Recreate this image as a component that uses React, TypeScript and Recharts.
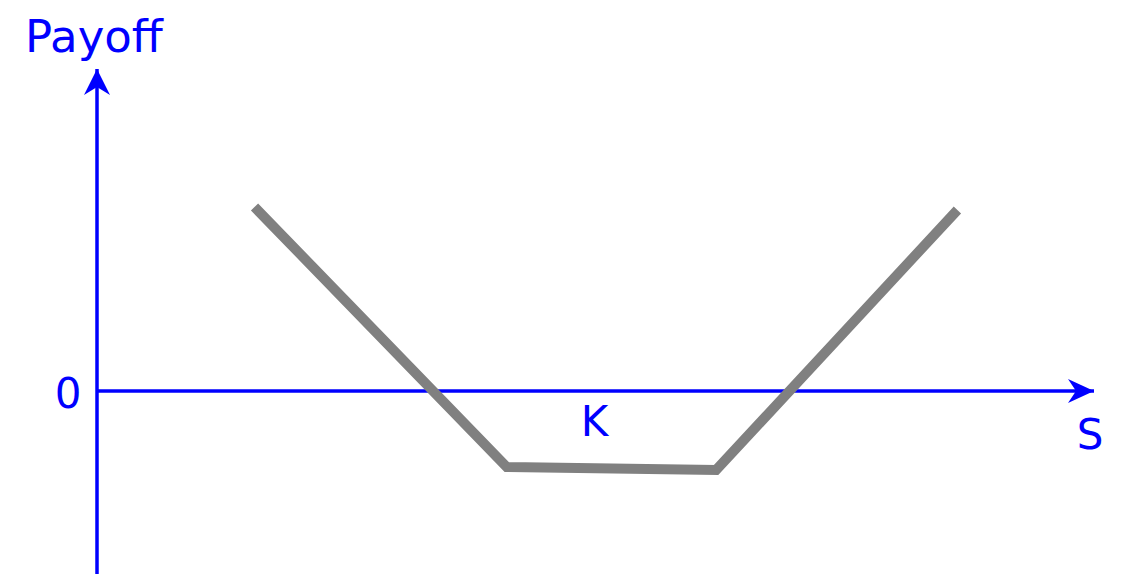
import { LineChart, Line, XAxis, YAxis, ReferenceLine, ReferenceDot } from "recharts";

// stock price S and payoff at the four corners of the curve
const priceS = [15.8, 41.1, 62.1, 86.3];
const payoff = [9.2, -3.8, -3.95, 9.05];
const strikeK = 50;

const data = priceS.map((s, i) => ({ s, payoff: payoff[i] }));

const BLUE = "#0000ff";
const FONT = "'DejaVu Sans', Verdana, sans-serif";

const RightArrow = (props: any) => {
  const { cx, cy } = props;
  return (
    <g>
      <polygon
        points={`${cx},${cy} ${cx - 26},${cy - 12} ${cx - 18},${cy} ${cx - 26},${cy + 12}`}
        fill={BLUE}
      />
      <text x={cx - 4} y={cy + 58} fill={BLUE} fontSize={42} fontFamily={FONT} textAnchor="middle">
        S
      </text>
    </g>
  );
};

const UpArrow = (props: any) => {
  const { cx, cy } = props;
  return (
    <g>
      <polygon
        points={`${cx},${cy} ${cx - 13},${cy + 26} ${cx},${cy + 18} ${cx + 13},${cy + 26}`}
        fill={BLUE}
      />
      <text x={cx - 72} y={cy - 17} fill={BLUE} fontSize={45} fontFamily={FONT}>
        Payoff
      </text>
    </g>
  );
};

const ZeroLabel = (props: any) => {
  const { cx, cy } = props;
  return (
    <text x={cx - 29} y={cy + 17} fill={BLUE} fontSize={42} fontFamily={FONT} textAnchor="middle">
      0
    </text>
  );
};

const KLabel = (props: any) => {
  const { cx, cy } = props;
  return (
    <text x={cx - 1} y={cy + 45} fill={BLUE} fontSize={42} fontFamily={FONT} textAnchor="middle">
      K
    </text>
  );
};

export default function App() {
  return (
    <div style={{ position: "absolute", left: 0, top: 0, background: "#fff" }}>
      <LineChart
        width={1138}
        height={588}
        data={data}
        margin={{ top: 69, right: 44, left: 97, bottom: 14 }}
      >
        <XAxis dataKey="s" type="number" domain={[0, 100]} hide />
        <YAxis type="number" domain={[-9.15, 16.1]} hide />
        <ReferenceLine y={0} stroke={BLUE} strokeWidth={3.5} />
        <ReferenceLine x={0} stroke={BLUE} strokeWidth={3.5} />
        <Line
          dataKey="payoff"
          type="linear"
          stroke="#808080"
          strokeWidth={10}
          dot={false}
          activeDot={false}
          isAnimationActive={false}
        />
        <ReferenceDot x={100} y={0} r={0} shape={RightArrow} />
        <ReferenceDot x={0} y={16.1} r={0} shape={UpArrow} />
        <ReferenceDot x={0} y={0} r={0} shape={ZeroLabel} />
        <ReferenceDot x={strikeK} y={0} r={0} shape={KLabel} />
      </LineChart>
    </div>
  );
}
